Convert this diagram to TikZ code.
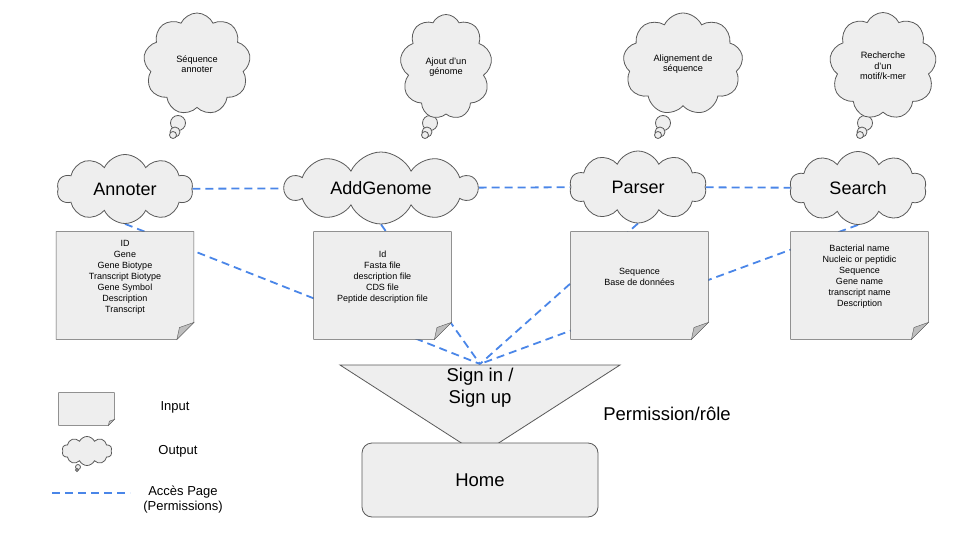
\documentclass[tikz,border=0pt]{standalone}
\usepackage{fontspec}
\setmainfont{Liberation Sans}
\usetikzlibrary{shapes.symbols,backgrounds,calc}
\definecolor{boxfill}{RGB}{238,238,238}
\definecolor{boxline}{RGB}{89,89,89}
\definecolor{foldgray}{RGB}{190,190,190}
\definecolor{accessblue}{RGB}{74,134,232}

\tikzset{
  outcloud/.style={cloud, cloud puffs=10, cloud puff arc=130, cloud ignores aspect, draw=boxline,
    fill=boxfill, inner sep=0pt, font=\fontsize{18}{20}\selectfont},
  thought/.style={cloud, cloud puffs=9, cloud puff arc=130, cloud ignores aspect, draw=boxline,
    fill=boxfill, inner sep=0pt, align=center, font=\fontsize{9.2}{10.5}\selectfont},
  bubble/.style={draw=boxline, fill=boxfill},
  notebox/.style={rectangle, minimum width=137pt, minimum height=107pt, inner sep=0pt},
  notetext/.style={align=center, font=\fontsize{9}{11}\selectfont},
  access/.style={accessblue, line width=1.8pt, dash pattern=on 8pt off 5pt},
  legendtext/.style={align=center, font=\fontsize{13}{15}\selectfont},
  bigtext/.style={align=center, font=\fontsize{18.5}{22}\selectfont}
}

\begin{document}
\begin{tikzpicture}[x=1pt, y=-1pt, line width=0.8pt]
    \useasboundingbox (0,0) rectangle (960,540);

    % Thought clouds
    \foreach \x/\y in {178/123, 430/123, 663/123, 865/123} {
        \filldraw[bubble] (\x,\y) circle (7.5pt);
        \filldraw[bubble] (\x-3,\y+9) circle (5pt);
        \filldraw[bubble] (\x-5,\y+12) circle (3.5pt);
    }
    \node[thought, minimum width=107pt, minimum height=102pt] (annoterout) at (197,64) {Séquence\\annoter};
    \node[thought, minimum width=92pt, minimum height=105pt] (genomeout) at (446,67) {Ajout d’un\\génome};
    \node[thought, minimum width=120pt, minimum height=102pt] (parserout) at (683,64) {Alignement de\\séquence};
    \node[thought, minimum width=107pt, minimum height=107pt] (searchout) at (883,66) {Recherche\\d’un\\motif/k-mer};

    % Pages
    \node[outcloud, minimum width=136pt, minimum height=69pt] (annoter) at (125,189) {Annoter};
    \node[outcloud, minimum width=192pt, minimum height=72pt] (addgenome) at (381,188) {AddGenome};
    \node[outcloud, minimum width=137pt, minimum height=72pt] (parser) at (638,187) {Parser};
    \node[outcloud, minimum width=137pt, minimum height=73pt] (search) at (858,188) {Search};

    % Inputs
    \node[notebox] (annoterin) at (125,285.5) {};
    \node[notetext] (annotertxt) at ([yshift=8.5pt]annoterin.center)
        {ID\\Gene\\Gene Biotype\\Transcript Biotype\\Gene Symbol\\Description\\Transcript};
    \node[notebox] (genomein) at (382.5,285.5) {};
    \node[notetext] (genometxt) at ([yshift=8.5pt]genomein.center)
        {Id\\Fasta file\\description file\\CDS file\\Peptide description file};
    \node[notebox] (parserin) at (639.5,285.5) {};
    \node[notetext] (parsertxt) at ([yshift=8.5pt]parserin.center)
        {Sequence\\Base de données};
    \node[notebox] (searchin) at (859.5,285.5) {};
    \node[notetext] (searchtxt) at ([yshift=8.5pt]searchin.center)
        {Bacterial name\\Nucleic or peptidic\\Sequence\\Gene name\\transcript name\\Description};

    % Sign in funnel and home
    \coordinate (gate) at (480,364);
    \filldraw[draw=boxline, fill=boxfill] (340,365) -- (620,365) -- (480,455) -- cycle;
    \node[bigtext] (signin) at (480,388) {Sign in /\\Sign up};
    \node[draw=boxline, fill=boxfill, rounded corners=10pt, minimum width=236pt, minimum height=74pt,
        font=\fontsize{18.5}{22}\selectfont] (home) at (480,480) {Home};
    \node[bigtext] (perm) at (667,414) {Permission/rôle};

    % Legend
    \node[notebox, minimum width=55pt, minimum height=32pt] (legendin) at (86.5,409) {};
    \node[legendtext] (inputlbl) at (175,407) {Input};
    \filldraw[bubble] (78,467) circle (2.5pt);
    \filldraw[bubble] (77,470) circle (1.5pt);
    \node[outcloud, minimum width=50pt, minimum height=29pt] (legendout) at (87,451) {};
    \node[legendtext] (outputlbl) at (178,451) {Output};
    \coordinate (dashstart) at (52,493);
    \coordinate (dashend) at (130,493);
    \draw[access] (dashstart) -- (dashend);
    \node[legendtext] (accesslbl) at (183,500) {Accès Page\\(Permissions)};

    \begin{scope}[on background layer]
        % Access lines
        \draw[access] (annoter) -- (addgenome);
        \draw[access] (addgenome) -- (parser);
        \draw[access] (parser) -- (search);
        \foreach \c in {annoter,addgenome,parser,search}
            \draw[access] (\c.south) -- (gate);

        % Note shapes with folded corner
        \foreach \n/\f in {annoterin/17, genomein/17, parserin/17, searchin/17, legendin/6} {
            \filldraw[draw=boxline, fill=boxfill] (\n.north west) -- (\n.north east)
                -- ([yshift=\f pt]\n.south east) -- ([xshift=-\f pt]\n.south east)
                -- (\n.south west) -- cycle;
            \filldraw[draw=boxline, fill=foldgray] ([yshift=\f pt]\n.south east)
                -- ([xshift=-\f pt]\n.south east)
                -- ([xshift={-0.85*\f*1pt}, yshift={0.7*\f*1pt}]\n.south east) -- cycle;
        }
    \end{scope}
\end{tikzpicture}
\end{document}
